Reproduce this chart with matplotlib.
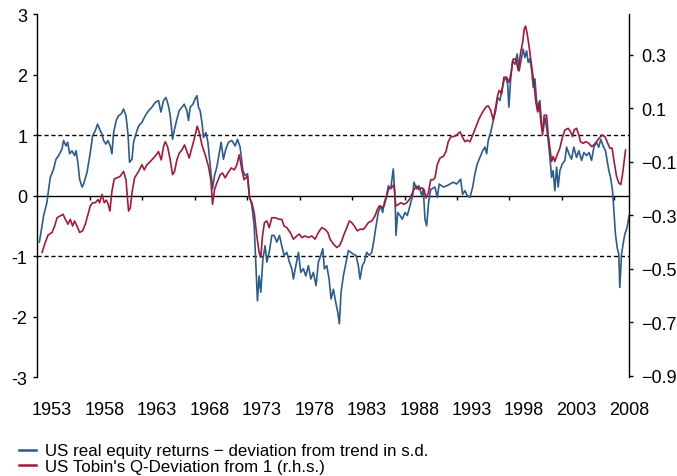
import matplotlib
matplotlib.use('Agg')
import matplotlib.pyplot as plt
from matplotlib.ticker import FixedLocator, FuncFormatter
from matplotlib.lines import Line2D

plt.rcParams['font.family'] = ['Liberation Sans', 'DejaVu Sans']

# US real equity returns, deviation from trend (s.d., left axis)
eq_year = [1951.79, 1952.05, 1952.20, 1952.52, 1952.68, 1952.84, 1953.15, 1953.38, 1953.63, 1953.95,
           1954.10, 1954.33, 1954.49, 1954.68, 1954.90, 1955.15, 1955.29, 1955.48, 1955.63, 1955.86,
           1956.01, 1956.33, 1956.65, 1956.87, 1957.12, 1957.34, 1957.60, 1957.76, 1957.91, 1958.14,
           1958.33, 1958.55, 1958.71, 1958.87, 1959.12, 1959.34, 1959.60, 1959.82, 1960.05, 1960.24,
           1960.39, 1960.62, 1960.77, 1961.00, 1961.25, 1961.57, 1961.89, 1962.20, 1962.52, 1962.84,
           1963.15, 1963.38, 1963.63, 1963.86, 1964.10, 1964.27, 1964.49, 1964.68, 1964.90, 1965.12,
           1965.38, 1965.60, 1965.86, 1966.01, 1966.17, 1966.43, 1966.65, 1966.81, 1966.96, 1967.12,
           1967.29, 1967.44, 1967.67, 1967.86, 1968.08, 1968.30, 1968.49, 1968.71, 1968.93, 1969.12,
           1969.34, 1969.57, 1969.82, 1970.14, 1970.46, 1970.68, 1970.93, 1971.19, 1971.41, 1971.63,
           1971.82, 1972.05, 1972.27, 1972.43, 1972.58, 1972.74, 1972.90, 1973.10, 1973.31, 1973.48,
           1973.70, 1973.95, 1974.17, 1974.43, 1974.68, 1974.90, 1975.12, 1975.38, 1975.63, 1975.86,
           1976.01, 1976.24, 1976.49, 1976.71, 1976.96, 1977.19, 1977.44, 1977.67, 1977.91, 1978.17,
           1978.39, 1978.62, 1978.81, 1978.96, 1979.19, 1979.41, 1979.60, 1979.82, 1980.05, 1980.24,
           1980.39, 1980.55, 1980.77, 1981.03, 1981.25, 1981.48, 1981.72, 1981.98, 1982.20, 1982.36,
           1982.58, 1982.77, 1983.00, 1983.25, 1983.48, 1983.70, 1983.89, 1984.10, 1984.33, 1984.52,
           1984.68, 1984.90, 1985.06, 1985.29, 1985.53, 1985.70, 1985.79, 1985.95, 1986.17, 1986.39,
           1986.65, 1986.87, 1987.12, 1987.38, 1987.50, 1987.76, 1987.98, 1988.24, 1988.39, 1988.55,
           1988.71, 1988.90, 1989.10, 1989.50, 1989.72, 1989.91, 1990.30, 1990.62, 1990.93, 1991.25,
           1991.57, 1991.95, 1992.14, 1992.36, 1992.58, 1992.84, 1993.10, 1993.31, 1993.53, 1993.79,
           1994.05, 1994.27, 1994.43, 1994.58, 1994.81, 1995.06, 1995.29, 1995.48, 1995.70, 1995.86,
           1996.08, 1996.27, 1996.43, 1996.55, 1996.71, 1996.90, 1997.12, 1997.34, 1997.53, 1997.76,
           1997.91, 1998.08, 1998.24, 1998.39, 1998.55, 1998.71, 1998.87, 1999.03, 1999.19, 1999.34,
           1999.50, 1999.67, 1999.82, 1999.98, 2000.14, 2000.30, 2000.46, 2000.62, 2000.77, 2000.93,
           2001.10, 2001.25, 2001.41, 2001.63, 2001.89, 2002.05, 2002.27, 2002.52, 2002.74, 2003.00,
           2003.22, 2003.48, 2003.70, 2003.95, 2004.20, 2004.43, 2004.65, 2004.90, 2005.12, 2005.31,
           2005.53, 2005.76, 2005.91, 2006.08, 2006.24, 2006.43, 2006.58, 2006.71, 2006.87, 2007.03,
           2007.12, 2007.29, 2007.44, 2007.60, 2007.82, 2008.01]
eq_dev = [-0.77, -0.50, -0.33, -0.11, 0.11, 0.30, 0.44, 0.60, 0.66, 0.77,
          0.91, 0.82, 0.88, 0.69, 0.74, 0.66, 0.74, 0.52, 0.27, 0.14,
          0.19, 0.38, 0.71, 0.99, 1.07, 1.18, 1.07, 1.02, 0.91, 0.85,
          0.91, 0.82, 0.69, 1.04, 1.24, 1.32, 1.35, 1.43, 1.32, 1.02,
          0.55, 0.60, 0.88, 1.02, 1.15, 1.21, 1.32, 1.40, 1.46, 1.54,
          1.57, 1.38, 1.57, 1.62, 1.48, 1.32, 0.93, 1.10, 1.26, 1.40,
          1.46, 1.51, 1.40, 1.24, 1.46, 1.51, 1.60, 1.65, 1.46, 1.40,
          1.21, 0.96, 1.04, 0.88, 0.49, 0.11, 0.33, 0.47, 0.69, 0.88,
          0.60, 0.77, 0.88, 0.91, 0.82, 0.93, 0.80, 0.41, 0.33, 0.36,
          0.00, -0.17, -0.50, -1.16, -1.74, -1.33, -1.60, -1.05, -0.83, -1.10,
          -0.94, -0.66, -0.66, -0.77, -0.66, -0.83, -0.99, -0.94, -1.10, -1.21,
          -1.38, -1.16, -0.94, -1.27, -1.21, -1.33, -1.16, -1.38, -1.27, -1.49,
          -1.10, -0.99, -0.88, -1.21, -1.16, -1.38, -1.71, -1.55, -1.77, -1.93,
          -2.12, -1.60, -1.33, -1.10, -0.91, -0.94, -0.97, -0.99, -1.16, -1.38,
          -1.16, -1.10, -0.94, -0.99, -0.94, -0.72, -0.50, -0.28, -0.17, -0.28,
          -0.11, 0.00, 0.16, 0.11, 0.44, -0.06, -0.66, -0.28, -0.33, -0.39,
          -0.28, -0.33, -0.17, 0.00, 0.22, 0.11, 0.16, 0.00, 0.11, -0.39,
          -0.50, -0.11, 0.10, 0.14, -0.03, 0.19, 0.14, 0.16, 0.19, 0.22,
          0.19, 0.27, 0.02, 0.08, 0.00, -0.03, 0.14, 0.36, 0.52, 0.63,
          0.74, 0.80, 0.69, 0.91, 1.04, 1.24, 1.40, 1.62, 1.57, 1.73,
          1.90, 1.95, 1.84, 1.46, 1.90, 2.23, 2.17, 2.34, 2.06, 2.28,
          2.42, 2.28, 2.39, 2.20, 2.26, 2.09, 1.79, 1.93, 1.57, 1.40,
          1.57, 1.18, 1.07, 1.29, 1.13, 0.91, 0.63, 0.30, 0.41, 0.08,
          0.47, 0.14, 0.41, 0.52, 0.58, 0.80, 0.69, 0.60, 0.80, 0.63,
          0.74, 0.58, 0.71, 0.66, 0.71, 0.58, 0.80, 0.88, 0.80, 0.93,
          0.82, 0.74, 0.58, 0.41, 0.30, 0.08, -0.31, -0.64, -0.86, -0.97,
          -1.52, -0.97, -0.80, -0.64, -0.53, -0.33]

# US Tobin's Q, deviation from 1 (right axis)
q_year = [1952.05, 1952.36, 1952.62, 1953.00, 1953.25, 1953.48, 1953.79, 1954.05, 1954.27, 1954.52,
          1954.74, 1954.96, 1955.15, 1955.38, 1955.63, 1955.91, 1956.17, 1956.43, 1956.65, 1956.87,
          1957.12, 1957.38, 1957.53, 1957.76, 1957.98, 1958.17, 1958.33, 1958.52, 1958.71, 1958.93,
          1959.19, 1959.50, 1959.82, 1960.05, 1960.20, 1960.30, 1960.46, 1960.62, 1960.87, 1961.25,
          1961.57, 1961.79, 1962.05, 1962.36, 1962.68, 1962.93, 1963.15, 1963.41, 1963.63, 1963.79,
          1964.01, 1964.27, 1964.49, 1964.68, 1964.90, 1965.12, 1965.38, 1965.63, 1965.86, 1966.08,
          1966.27, 1966.49, 1966.65, 1966.84, 1967.06, 1967.29, 1967.60, 1967.91, 1968.14, 1968.30,
          1968.49, 1968.71, 1969.03, 1969.25, 1969.50, 1969.76, 1970.08, 1970.39, 1970.62, 1970.84,
          1971.10, 1971.31, 1971.63, 1971.82, 1972.05, 1972.27, 1972.52, 1972.74, 1972.90, 1973.06,
          1973.25, 1973.48, 1973.70, 1973.95, 1974.27, 1974.68, 1974.90, 1975.12, 1975.38, 1975.70,
          1976.01, 1976.33, 1976.58, 1976.81, 1977.12, 1977.44, 1977.76, 1978.08, 1978.39, 1978.71,
          1979.03, 1979.29, 1979.50, 1979.82, 1980.14, 1980.39, 1980.62, 1980.84, 1981.10, 1981.34,
          1981.57, 1981.82, 1982.10, 1982.36, 1982.68, 1982.93, 1983.15, 1983.48, 1983.79, 1984.01,
          1984.20, 1984.43, 1984.65, 1984.90, 1985.12, 1985.38, 1985.60, 1985.76, 1986.01, 1986.27,
          1986.55, 1986.81, 1987.06, 1987.29, 1987.50, 1987.76, 1987.98, 1988.24, 1988.46, 1988.65,
          1988.87, 1989.10, 1989.34, 1989.50, 1989.72, 1989.98, 1990.30, 1990.55, 1990.77, 1991.03,
          1991.31, 1991.57, 1991.89, 1992.10, 1992.36, 1992.58, 1992.84, 1993.10, 1993.41, 1993.72,
          1994.05, 1994.36, 1994.58, 1994.81, 1995.06, 1995.29, 1995.48, 1995.63, 1995.86, 1996.08,
          1996.33, 1996.55, 1996.74, 1996.96, 1997.22, 1997.44, 1997.67, 1997.86, 1998.01, 1998.14,
          1998.30, 1998.49, 1998.71, 1998.93, 1999.12, 1999.29, 1999.44, 1999.60, 1999.76, 1999.91,
          2000.14, 2000.30, 2000.46, 2000.62, 2000.77, 2000.93, 2001.15, 2001.41, 2001.63, 2001.89,
          2002.20, 2002.43, 2002.62, 2002.77, 2003.00, 2003.22, 2003.38, 2003.63, 2003.89, 2004.17,
          2004.43, 2004.65, 2004.90, 2005.15, 2005.44, 2005.70, 2005.91, 2006.17, 2006.39, 2006.58,
          2006.81, 2007.03, 2007.22, 2007.38, 2007.53, 2007.67]
q_dev = [-0.438, -0.401, -0.374, -0.364, -0.340, -0.309, -0.302, -0.296, -0.315, -0.333,
         -0.315, -0.340, -0.321, -0.340, -0.364, -0.358, -0.333, -0.296, -0.265, -0.253,
         -0.253, -0.241, -0.253, -0.222, -0.253, -0.243, -0.256, -0.284, -0.210, -0.164,
         -0.160, -0.154, -0.136, -0.167, -0.241, -0.284, -0.272, -0.216, -0.160, -0.136,
         -0.111, -0.130, -0.111, -0.099, -0.086, -0.074, -0.062, -0.093, -0.043, -0.025,
         -0.043, -0.093, -0.148, -0.136, -0.093, -0.068, -0.056, -0.037, -0.062, -0.086,
         -0.056, -0.025, 0.000, 0.033, 0.006, -0.037, -0.074, -0.117, -0.167, -0.259,
         -0.204, -0.179, -0.148, -0.142, -0.160, -0.142, -0.123, -0.130, -0.111, -0.074,
         -0.130, -0.167, -0.154, -0.235, -0.253, -0.290, -0.377, -0.438, -0.457, -0.377,
         -0.327, -0.321, -0.346, -0.309, -0.309, -0.315, -0.315, -0.340, -0.346, -0.364,
         -0.389, -0.377, -0.370, -0.383, -0.377, -0.383, -0.377, -0.389, -0.364, -0.346,
         -0.352, -0.364, -0.389, -0.407, -0.420, -0.414, -0.395, -0.370, -0.346, -0.321,
         -0.327, -0.340, -0.358, -0.352, -0.352, -0.340, -0.327, -0.321, -0.302, -0.278,
         -0.265, -0.272, -0.265, -0.228, -0.197, -0.197, -0.185, -0.265, -0.259, -0.253,
         -0.259, -0.253, -0.241, -0.222, -0.204, -0.191, -0.204, -0.197, -0.204, -0.235,
         -0.216, -0.167, -0.167, -0.160, -0.111, -0.086, -0.080, -0.062, -0.025, -0.006,
         -0.006, 0.000, 0.012, -0.006, -0.025, -0.019, -0.025, 0.000, 0.031, 0.062,
         0.086, 0.105, 0.109, 0.093, 0.056, 0.105, 0.148, 0.167, 0.154, 0.216,
         0.216, 0.197, 0.228, 0.284, 0.284, 0.241, 0.309, 0.346, 0.395, 0.407,
         0.377, 0.327, 0.259, 0.197, 0.123, 0.086, 0.123, 0.049, 0.000, 0.074,
         0.074, 0.000, -0.049, -0.099, -0.080, -0.099, -0.074, -0.049, -0.012, 0.019,
         0.025, 0.012, -0.006, 0.019, 0.025, 0.000, -0.025, -0.031, -0.025, -0.031,
         -0.043, -0.037, -0.025, -0.012, 0.000, -0.006, -0.025, -0.049, -0.049, -0.099,
         -0.154, -0.179, -0.185, -0.148, -0.099, -0.056]

year_labels = [1953, 1958, 1963, 1968, 1973, 1978, 1983, 1988, 1993, 1998, 2003, 2008]
left_ticks = [-3, -2, -1, 0, 1, 2, 3]
right_ticks = [-0.9, -0.7, -0.5, -0.3, -0.1, 0.1, 0.3]

blue = '#2b5c8c'
red = '#a11b38'

fig = plt.figure(figsize=(6.77, 4.77), dpi=100)
ax = fig.add_axes([0.0547, 0.2075, 0.8744, 0.7610])
ax2 = ax.twinx()

ax.plot(eq_year, eq_dev, color=blue, lw=1.2, zorder=3)
ax2.plot(q_year, q_dev, color=red, lw=1.2, zorder=3)

ax.set_xlim(1951.57, 2008.0)
ax.set_ylim(-3, 3)
ax2.set_ylim(-0.904, 0.452)

ax.axhline(1, color='black', lw=1, ls=(0, (3, 2)), zorder=2)
ax.axhline(-1, color='black', lw=1, ls=(0, (3, 2)), zorder=2)

# spines: left and right only, bottom spine acts as zero line
for s in ['top', 'right']:
    ax.spines[s].set_visible(False)
for s in ['top', 'left', 'bottom']:
    ax2.spines[s].set_visible(False)
ax.spines['bottom'].set_position(('data', 0))
ax.spines['bottom'].set_linewidth(1.0)
ax.spines['left'].set_linewidth(1.0)
ax2.spines['right'].set_linewidth(1.0)

ax.xaxis.set_major_locator(FixedLocator([1956.6, 1961.6, 1966.6, 1971.6, 1976.6, 1981.6,
                                         1986.6, 1991.6, 1996.6, 2001.6, 2006.6]))
ax.tick_params(axis='x', direction='out', length=3, width=1, labelbottom=False)

sec = ax.secondary_xaxis('bottom')
sec.set_xticks(year_labels)
sec.set_xticklabels([str(y) for y in year_labels])
sec.spines['bottom'].set_visible(False)
sec.tick_params(axis='x', length=0, pad=17, labelsize=13)

ax.yaxis.set_major_locator(FixedLocator(left_ticks))
ax.yaxis.set_major_formatter(FuncFormatter(lambda v, p: '%d' % v))
ax.tick_params(axis='y', direction='out', length=3, width=1, pad=4, labelsize=13)

ax2.yaxis.set_major_locator(FixedLocator(right_ticks))
ax2.yaxis.set_major_formatter(FuncFormatter(lambda v, p: ('%.1f' % v).replace('-', '\u2212')))
ax2.tick_params(axis='y', direction='out', length=3, width=1, pad=6, labelsize=13)

handles = [Line2D([], [], color=blue, lw=1.8), Line2D([], [], color=red, lw=1.8)]
labels = ['US real equity returns \u2212 deviation from trend in s.d.',
          "US Tobin's Q-Deviation from 1 (r.h.s.)"]
fig.legend(handles, labels, loc='lower left', bbox_to_anchor=(0.025, 0.0),
           frameon=False, fontsize=12.2, handlelength=1.05, handletextpad=0.5,
           labelspacing=0.05, borderpad=0.0, borderaxespad=0.1)

fig.savefig('out.png', dpi=100)
